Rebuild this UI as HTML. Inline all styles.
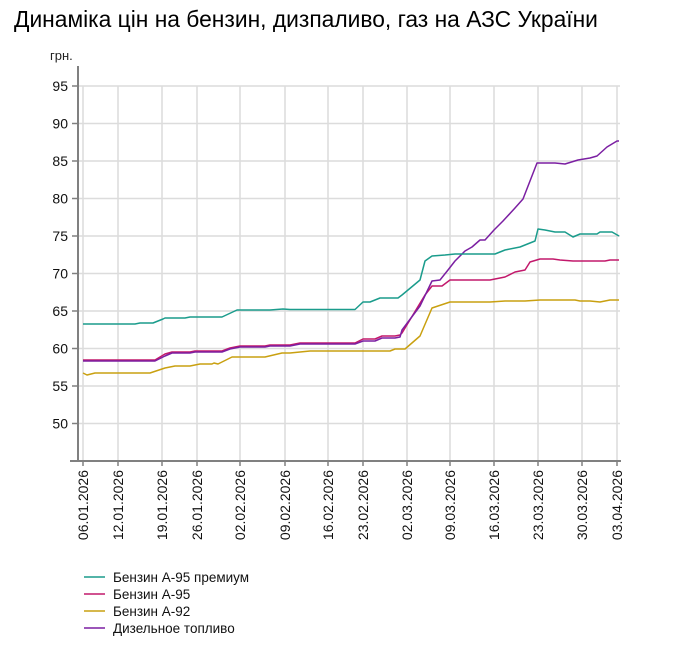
<!DOCTYPE html>
<html><head><meta charset="utf-8"><style>
body{margin:0;background:#fff;width:697px;height:647px;overflow:hidden;font-family:"Liberation Sans",Arial,sans-serif}
</style></head><body>
<svg width="697" height="647" xmlns="http://www.w3.org/2000/svg" font-family="Liberation Sans, Arial, sans-serif">
<text x="14" y="27" font-size="22.8" fill="#000">Динаміка цін на бензин, дизпаливо, газ на АЗС України</text>
<text x="50" y="60" font-size="13" fill="#222">грн.</text>
<g stroke="#dcdcdc" stroke-width="1.5">
<line x1="78" y1="86" x2="620" y2="86"/><line x1="78" y1="123.5" x2="620" y2="123.5"/><line x1="78" y1="161" x2="620" y2="161"/><line x1="78" y1="198.5" x2="620" y2="198.5"/><line x1="78" y1="236" x2="620" y2="236"/><line x1="78" y1="273.5" x2="620" y2="273.5"/><line x1="78" y1="311" x2="620" y2="311"/><line x1="78" y1="348.5" x2="620" y2="348.5"/><line x1="78" y1="386" x2="620" y2="386"/><line x1="78" y1="423.5" x2="620" y2="423.5"/>
<line x1="83" y1="86" x2="83" y2="461"/><line x1="118" y1="86" x2="118" y2="461"/><line x1="162" y1="86" x2="162" y2="461"/><line x1="197" y1="86" x2="197" y2="461"/><line x1="240" y1="86" x2="240" y2="461"/><line x1="285" y1="86" x2="285" y2="461"/><line x1="328" y1="86" x2="328" y2="461"/><line x1="363" y1="86" x2="363" y2="461"/><line x1="407" y1="86" x2="407" y2="461"/><line x1="450" y1="86" x2="450" y2="461"/><line x1="494" y1="86" x2="494" y2="461"/><line x1="538" y1="86" x2="538" y2="461"/><line x1="582" y1="86" x2="582" y2="461"/><line x1="617" y1="86" x2="617" y2="461"/>
</g>
<g stroke="#808080" stroke-width="2">
<line x1="78" y1="66" x2="78" y2="461"/><line x1="70" y1="461" x2="621" y2="461"/>
</g>
<g stroke="#808080" stroke-width="1.5">
<line x1="72" y1="86" x2="78" y2="86"/><line x1="72" y1="123.5" x2="78" y2="123.5"/><line x1="72" y1="161" x2="78" y2="161"/><line x1="72" y1="198.5" x2="78" y2="198.5"/><line x1="72" y1="236" x2="78" y2="236"/><line x1="72" y1="273.5" x2="78" y2="273.5"/><line x1="72" y1="311" x2="78" y2="311"/><line x1="72" y1="348.5" x2="78" y2="348.5"/><line x1="72" y1="386" x2="78" y2="386"/><line x1="72" y1="423.5" x2="78" y2="423.5"/>
<line x1="83" y1="461" x2="83" y2="466"/><line x1="118" y1="461" x2="118" y2="466"/><line x1="162" y1="461" x2="162" y2="466"/><line x1="197" y1="461" x2="197" y2="466"/><line x1="240" y1="461" x2="240" y2="466"/><line x1="285" y1="461" x2="285" y2="466"/><line x1="328" y1="461" x2="328" y2="466"/><line x1="363" y1="461" x2="363" y2="466"/><line x1="407" y1="461" x2="407" y2="466"/><line x1="450" y1="461" x2="450" y2="466"/><line x1="494" y1="461" x2="494" y2="466"/><line x1="538" y1="461" x2="538" y2="466"/><line x1="582" y1="461" x2="582" y2="466"/><line x1="617" y1="461" x2="617" y2="466"/>
</g>
<g font-size="14" fill="#111" text-anchor="end">
<text x="68" y="91">95</text><text x="68" y="128.5">90</text><text x="68" y="166">85</text><text x="68" y="203.5">80</text><text x="68" y="241">75</text><text x="68" y="278.5">70</text><text x="68" y="316">65</text><text x="68" y="353.5">60</text><text x="68" y="391">55</text><text x="68" y="428.5">50</text>
</g>
<g font-size="14" fill="#111" text-anchor="end">
<text transform="translate(88,470) rotate(-90)">06.01.2026</text>
<text transform="translate(123,470) rotate(-90)">12.01.2026</text>
<text transform="translate(167,470) rotate(-90)">19.01.2026</text>
<text transform="translate(202,470) rotate(-90)">26.01.2026</text>
<text transform="translate(245,470) rotate(-90)">02.02.2026</text>
<text transform="translate(290,470) rotate(-90)">09.02.2026</text>
<text transform="translate(333,470) rotate(-90)">16.02.2026</text>
<text transform="translate(368,470) rotate(-90)">23.02.2026</text>
<text transform="translate(412,470) rotate(-90)">02.03.2026</text>
<text transform="translate(455,470) rotate(-90)">09.03.2026</text>
<text transform="translate(499,470) rotate(-90)">16.03.2026</text>
<text transform="translate(543,470) rotate(-90)">23.03.2026</text>
<text transform="translate(587,470) rotate(-90)">30.03.2026</text>
<text transform="translate(622,470) rotate(-90)">03.04.2026</text>
</g>
<g fill="none" stroke-width="1.5" stroke-linejoin="round">
<polyline stroke="#c9a010" points="83,373 87,375 95,373 150,373 165,368 175,366 190,366 200,364 212,364 214,363 218,364 232,357 265,357 282,353 290,353 310,351 390,351 395,349 405,349 420,336 432,308 450,302 490,302 505,301 525,301 540,300 575,300 580,301 590,301 600,302 610,300 619,300"/>
<polyline stroke="#c2186b" points="83,360 155,360 165,354 172,352 190,352 195,351 222,351 230,348 240,346 265,346 270,345 290,345 300,343 355,343 363,339 375,339 382,336 395,336 400,335 402,333 425,295 432,286 442,286 450,280 490,280 505,277 515,272 525,270 530,262 540,259 553,259 560,260 573,261 605,261 610,260 619,260"/>
<polyline stroke="#7b1fa2" points="83,361 155,361 165,356 172,353 190,353 195,352 222,352 230,349 240,347 265,347 270,346 290,346 300,344 355,344 363,341 375,341 382,338 395,338 400,337 402,330 420,306 432,281 440,280 448,270 455,261 465,251 472,247 480,240 485,240 494,230 503,221 515,208 523,199 537,163 555,163 565,164 578,160 590,158 597,156 607,147 617,141 619,141"/>
<polyline stroke="#1a9c8c" points="83,324 135,324 140,323 153,323 163,319 165,318 185,318 190,317 222,317 237,310 270,310 283,309 290,309.5 355,309.5 363,302 370,302 380,298 398,298 402,295 420,280 425,261 432,256 445,255 455,254 495,254 505,250 520,247 535,241 538,229 545,230 555,232 565,232 573,237 580,234 597,234 600,232 612,232 619,236"/>
</g>
<g stroke-width="1.5">
<line x1="84" y1="577" x2="105" y2="577" stroke="#1a9c8c"/>
<line x1="84" y1="594" x2="105" y2="594" stroke="#c2186b"/>
<line x1="84" y1="611" x2="105" y2="611" stroke="#c9a010"/>
<line x1="84" y1="628" x2="105" y2="628" stroke="#7b1fa2"/>
</g>
<g font-size="13.5" fill="#111">
<text x="113" y="582">Бензин А-95 премиум</text>
<text x="113" y="599">Бензин А-95</text>
<text x="113" y="616">Бензин А-92</text>
<text x="113" y="633">Дизельное топливо</text>
</g>
</svg>
</body></html>
